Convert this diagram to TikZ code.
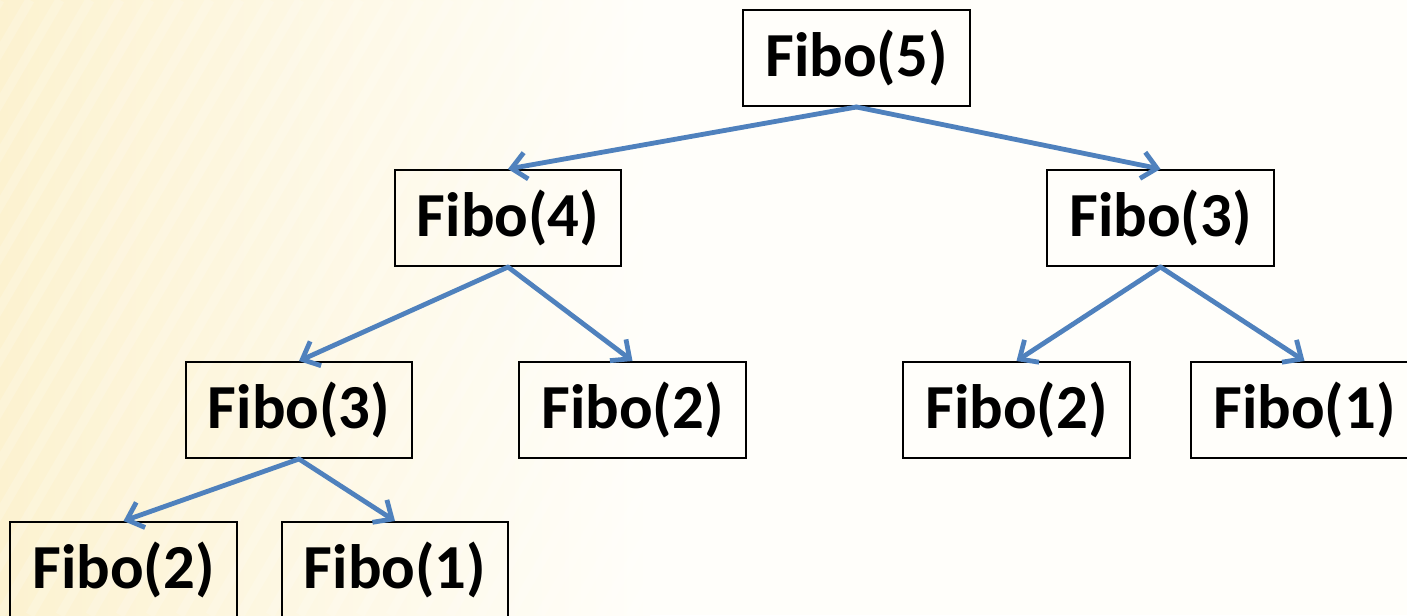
\documentclass[tikz,border=0pt]{standalone}
\usepackage{fontspec}
\setmainfont{Carlito}
\usetikzlibrary{arrows.meta}

\definecolor{callblue}{HTML}{4F81BD}
\definecolor{paperyellow}{HTML}{FCF2D0}
\definecolor{paperwhite}{HTML}{FFFEFA}

\tikzset{every picture/.style={line width=0.75pt}}
\tikzset{
  fibobox/.style={draw=black, line width=1.5pt, minimum width=170pt, minimum height=72pt, inner sep=0pt, font=\fontsize{47}{50}\selectfont\bfseries},
  callarrow/.style={draw=callblue, line width=3.6pt, line cap=round, line join=round, -{Straight Barb[length=11pt,width=20pt,line width=3.6pt]}}
}

\begin{document}
\begin{tikzpicture}[x=0.75pt,y=0.75pt,yscale=-1,xscale=1]
\useasboundingbox (0,0) rectangle (1407,615);

%Background
\fill [paperwhite] (0,0) rectangle (1407,615);
\shade [left color=paperyellow, right color=paperwhite] (0,0) rectangle (650,615);
\begin{scope}
\clip (0,0) rectangle (1407,615);
\foreach \s in {-600,-570,...,900} {
  \draw [white, opacity=0.18, line width=7pt] (\s,615) -- (\s+360,0) ;
}
\end{scope}

% Text Node
\node [fibobox] (fiveroot) at (856.5,58) {Fibo(5)};
% Text Node
\node [fibobox] (fourleft) at (508,218) {Fibo(4)};
% Text Node
\node [fibobox] (threeright) at (1160.5,218) {Fibo(3)};
% Text Node
\node [fibobox] (threeleft) at (299,410) {Fibo(3)};
% Text Node
\node [fibobox] (twomid) at (632.5,410) {Fibo(2)};
% Text Node
\node [fibobox] (tworight) at (1016.5,410) {Fibo(2)};
% Text Node
\node [fibobox] (oneright) at (1304.5,410) {Fibo(1)};
% Text Node
\node [fibobox] (twobottom) at (123.5,570) {Fibo(2)};
% Text Node
\node [fibobox] (onebottom) at (395,570) {Fibo(1)};

%Straight Lines
\draw [callarrow] (fiveroot.south) -- (fourleft.north) ;
\draw [callarrow] (fiveroot.south) -- (threeright.north) ;
\draw [callarrow] (fourleft.south) -- (threeleft.north) ;
\draw [callarrow] (fourleft.south) -- (twomid.north) ;
\draw [callarrow] (threeright.south) -- (tworight.north) ;
\draw [callarrow] (threeright.south) -- (oneright.north) ;
\draw [callarrow] (threeleft.south) -- (twobottom.north) ;
\draw [callarrow] (threeleft.south) -- (onebottom.north) ;

\end{tikzpicture}
\end{document}
